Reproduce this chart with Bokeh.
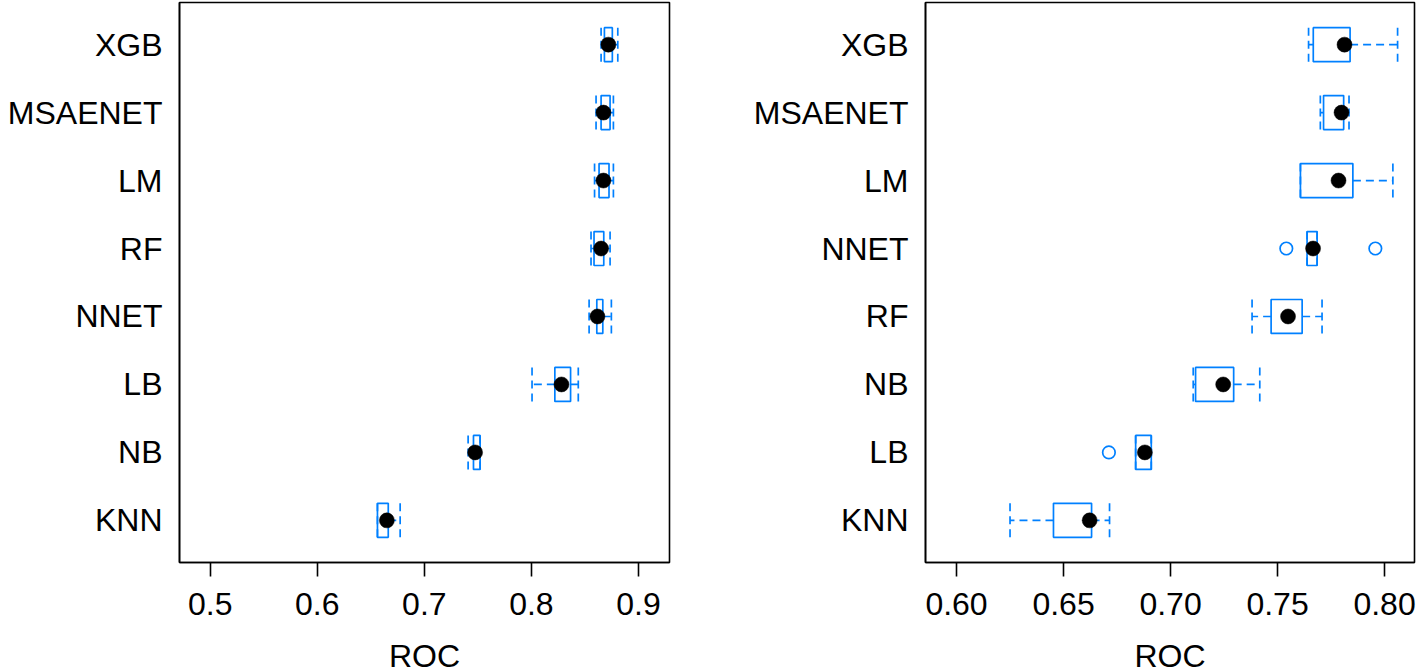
from bokeh.plotting import figure
from bokeh.models import Range1d, FixedTicker, ColumnDataSource
from bokeh.layouts import row
from bokeh.embed import file_html
from bokeh.resources import INLINE

# ---------------- data: left panel ----------------
left_models = ["XGB", "MSAENET", "LM", "RF", "NNET", "LB", "NB", "KNN"]
left_lo  = [0.8651, 0.8604, 0.8590, 0.8557, 0.8539, 0.8006, 0.7409, 0.6562]
left_q1  = [0.8682, 0.8651, 0.8632, 0.8585, 0.8611, 0.8219, 0.7459, 0.6562]
left_med = [0.8719, 0.8673, 0.8673, 0.8651, 0.8617, 0.8281, 0.7474, 0.6650]
left_q3  = [0.8756, 0.8735, 0.8725, 0.8676, 0.8667, 0.8366, 0.7521, 0.6663]
left_hi  = [0.8807, 0.8766, 0.8766, 0.8735, 0.8747, 0.8438, 0.7521, 0.6774]
left_out_models = []
left_out_values = []
left_ticks = [0.5, 0.6, 0.7, 0.8, 0.9]
left_tick_labels = ["0.5", "0.6", "0.7", "0.8", "0.9"]

# ---------------- data: right panel ----------------
right_models = ["XGB", "MSAENET", "LM", "NNET", "RF", "NB", "LB", "KNN"]
right_lo  = [0.7645, 0.7700, 0.7607, 0.7638, 0.7381, 0.7106, 0.6837, 0.6250]
right_q1  = [0.7667, 0.7715, 0.7607, 0.7638, 0.7470, 0.7117, 0.6837, 0.6453]
right_med = [0.7813, 0.7799, 0.7785, 0.7666, 0.7549, 0.7246, 0.6880, 0.6622]
right_q3  = [0.7839, 0.7809, 0.7852, 0.7685, 0.7615, 0.7295, 0.6910, 0.6631]
right_hi  = [0.8061, 0.7834, 0.8039, 0.7685, 0.7708, 0.7417, 0.6910, 0.6715]
right_out_models = ["NNET", "NNET", "LB"]
right_out_values = [0.7541, 0.7957, 0.6712]
right_ticks = [0.60, 0.65, 0.70, 0.75, 0.80]
right_tick_labels = ["0.60", "0.65", "0.70", "0.75", "0.80"]

AXIS_LABEL = "ROC"
BLUE = "#0080ff"
FONT = "Liberation Sans"
BOX_H = 0.5
LW = 1.7


def panel(models, lo, q1, med, q3, hi, out_models, out_values, xr,
          ticks, tick_labels, width, b_left, b_right):
    n = len(models)
    ypos = [n - i for i in range(n)]
    idx = {m: n - i for i, m in enumerate(models)}
    p = figure(width=width, height=690, x_range=Range1d(*xr),
               y_range=Range1d(0.38, n + 0.62),
               output_backend="svg", toolbar_location=None,
               min_border_left=b_left, min_border_right=b_right,
               min_border_top=2, min_border_bottom=128)
    p.grid.visible = False
    p.outline_line_color = "black"
    p.outline_line_width = 1.6
    p.background_fill_color = "white"
    p.border_fill_color = "white"

    src = ColumnDataSource(dict(y=ypos, lo=lo, q1=q1, med=med, q3=q3, hi=hi,
                                yb=[v - BOX_H / 2 for v in ypos],
                                yt=[v + BOX_H / 2 for v in ypos]))
    # whiskers
    p.segment(x0="q1", y0="y", x1="lo", y1="y", source=src,
              line_color=BLUE, line_width=LW, line_dash="8 5")
    p.segment(x0="q3", y0="y", x1="hi", y1="y", source=src,
              line_color=BLUE, line_width=LW, line_dash="8 5")
    # caps
    p.segment(x0="lo", y0="yb", x1="lo", y1="yt", source=src,
              line_color=BLUE, line_width=LW, line_dash="8 5")
    p.segment(x0="hi", y0="yb", x1="hi", y1="yt", source=src,
              line_color=BLUE, line_width=LW, line_dash="8 5")
    # boxes
    p.hbar(y="y", height=BOX_H, left="q1", right="q3", source=src,
           fill_color=None, line_color=BLUE, line_width=LW)
    # medians
    p.scatter(x="med", y="y", source=src, size=15, marker="circle",
              fill_color="black", line_color="black", line_width=0.5)
    # outliers
    if out_models:
        p.scatter(x=out_values, y=[idx[m] for m in out_models], size=12.5,
                  marker="circle", fill_color=None, line_color=BLUE,
                  line_width=LW)

    xa = p.xaxis[0]
    xa.ticker = FixedTicker(ticks=ticks, minor_ticks=[])
    xa.major_label_overrides = {t: l for t, l in zip(ticks, tick_labels)}
    xa.major_label_text_font = FONT
    xa.major_label_text_font_size = "32px"
    xa.major_label_text_color = "black"
    xa.major_label_standoff = 16
    xa.major_tick_in = 0
    xa.major_tick_out = 14
    xa.major_tick_line_width = 1.6
    xa.major_tick_line_color = "black"
    xa.minor_tick_line_color = None
    xa.axis_line_color = "black"
    xa.axis_line_width = 1.6
    xa.axis_label = AXIS_LABEL
    xa.axis_label_text_font = FONT
    xa.axis_label_text_font_style = "normal"
    xa.axis_label_text_font_size = "32px"
    xa.axis_label_text_color = "black"
    xa.axis_label_standoff = 20

    ya = p.yaxis[0]
    ya.ticker = FixedTicker(ticks=ypos, minor_ticks=[])
    ya.major_label_overrides = {y: m for y, m in zip(ypos, models)}
    ya.major_label_text_font = FONT
    ya.major_label_text_font_size = "32px"
    ya.major_label_text_color = "black"
    ya.major_label_standoff = 17
    ya.major_tick_in = 0
    ya.major_tick_out = 0
    ya.major_tick_line_color = None
    ya.minor_tick_line_color = None
    ya.axis_line_color = "black"
    ya.axis_line_width = 1.6
    return p


p1 = panel(left_models, left_lo, left_q1, left_med, left_q3, left_hi,
           left_out_models, left_out_values, (0.4713, 0.929),
           left_ticks, left_tick_labels, 700, 179, 31)
p2 = panel(right_models, right_lo, right_q1, right_med, right_q3, right_hi,
           right_out_models, right_out_values, (0.5855, 0.8140),
           right_ticks, right_tick_labels, 718, 225, 4)

layout = row(p1, p2)
open("out.html", "w").write(file_html(layout, INLINE))
